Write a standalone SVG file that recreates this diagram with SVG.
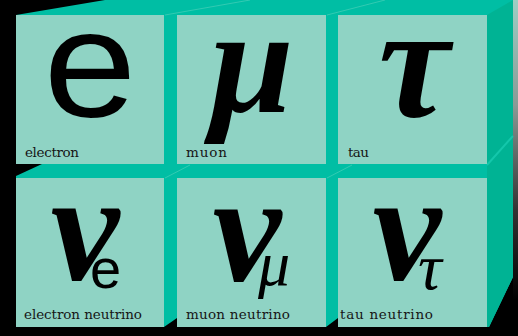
<svg xmlns="http://www.w3.org/2000/svg" width="518" height="336" viewBox="0 0 518 336">
  <defs>
    <style>
      .face { fill: #8fd3c4; }
      .sym { font-family: "Liberation Serif", "DejaVu Serif", serif; font-style: italic; font-weight: bold; fill: #000; }
      .sub { font-family: "Liberation Serif", "DejaVu Serif", serif; font-style: italic; fill: #000; }
      .lbl { font-family: "DejaVu Serif", "Liberation Serif", serif; font-size: 13.5px; fill: #161616; }
      .edge { stroke: #3fcdb5; stroke-width: 1; fill: none; opacity: 0.8; }
    </style>
    <linearGradient id="glow" x1="0" y1="0" x2="0" y2="1">
      <stop offset="0" stop-color="#9ccfc4"/>
      <stop offset="0.35" stop-color="#8a9a96"/>
      <stop offset="0.7" stop-color="#333"/>
      <stop offset="1" stop-color="#000"/>
    </linearGradient>
  </defs>
  <rect x="0" y="0" width="518" height="336" fill="#000"/>
  <rect x="513" y="0" width="5" height="300" fill="url(#glow)"/>
  <!-- cube body -->
  <polygon points="16,15 105,0 513,0 513,277 489,327 16,327" fill="#00bea4"/>
  <!-- right side face -->
  <polygon points="487,15 513,0 513,277 489,327 487,327" fill="#00b394"/>
  <line x1="487" y1="165" x2="513" y2="136" stroke="#14c7ab" stroke-width="2"/>
  <!-- perspective edges on top -->
  <line class="edge" x1="165" y1="15" x2="250" y2="0"/>
  <line class="edge" x1="327" y1="15" x2="385" y2="0"/>
  <line class="edge" x1="165" y1="178" x2="190" y2="165"/>
  <line class="edge" x1="327" y1="178" x2="352" y2="165"/>
  <!-- black notches -->
  <polygon points="16,164 42,164 16,176" fill="#000"/>
  <polygon points="164,327 177,318 177,327" fill="#000"/>
  <polygon points="326,327 338,318 338,327" fill="#000"/>

  <g id="electron">
    <rect class="face" x="16" y="15" width="148" height="149"/>
    <text x="90" y="117" font-family="Liberation Sans, Arial, sans-serif" font-size="152" text-anchor="middle" transform="translate(90 0) scale(1.1 1) translate(-90 0)">e</text>
    <text class="lbl" x="25" y="157" textLength="54">electron</text>
  </g>
  <g id="muon">
    <rect class="face" x="177" y="15" width="149" height="149"/>
    <text class="sym" x="252" y="112" font-size="150" text-anchor="middle">μ</text>
    <text class="lbl" x="186" y="157" textLength="41">muon</text>
  </g>
  <g id="tau">
    <rect class="face" x="338" y="15" width="149" height="149"/>
    <text class="sym" x="414" y="116" font-size="160" text-anchor="middle">τ</text>
    <text class="lbl" x="348" y="157" textLength="21">tau</text>
  </g>
  <g id="electron-neutrino">
    <rect class="face" x="16" y="178" width="148" height="149"/>
    <text class="sym" x="85" y="279" font-size="155" text-anchor="middle">ν</text>
    <text x="90" y="288" font-family="Liberation Sans, Arial, sans-serif" font-size="56">e</text>
    <text class="lbl" x="24" y="319" textLength="118">electron neutrino</text>
  </g>
  <g id="muon-neutrino">
    <rect class="face" x="177" y="178" width="149" height="149"/>
    <text class="sym" x="247" y="280" font-size="155" text-anchor="middle">ν</text>
    <text class="sub" x="258" y="285" font-size="64">μ</text>
    <text class="lbl" x="186" y="319" textLength="104">muon neutrino</text>
  </g>
  <g id="tau-neutrino">
    <rect class="face" x="338" y="178" width="149" height="149"/>
    <text class="sym" x="407" y="279" font-size="155" text-anchor="middle">ν</text>
    <text class="sub" x="418" y="289" font-size="66">τ</text>
    <text class="lbl" x="340" y="319" textLength="93">tau neutrino</text>
  </g>
  <g id="connectors"></g>
</svg>
